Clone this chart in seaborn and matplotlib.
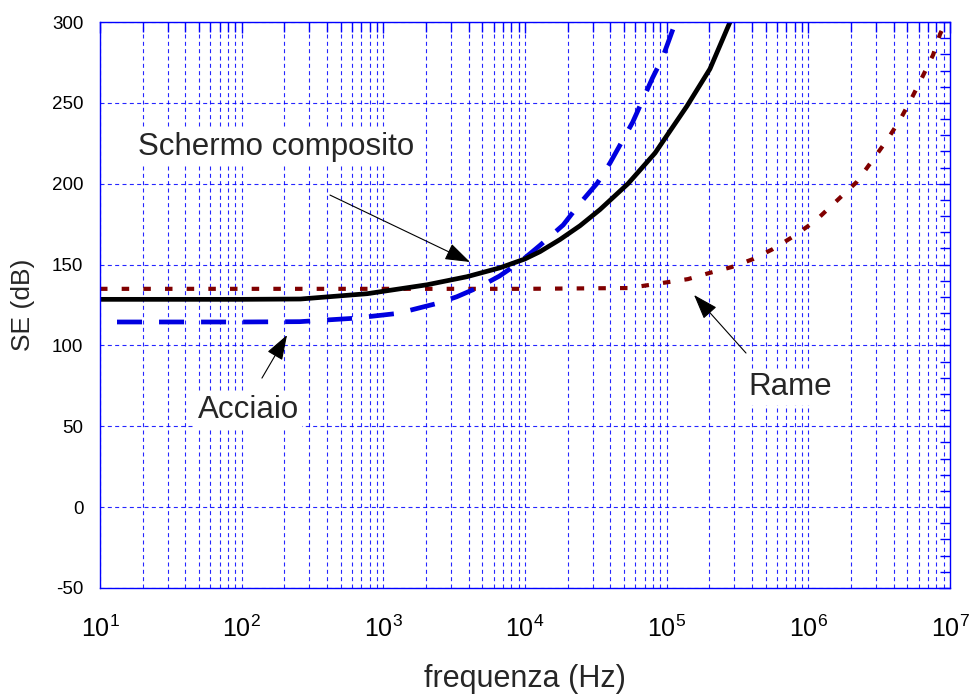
import numpy as np
import pandas as pd
import matplotlib
matplotlib.use("Agg")
import matplotlib.pyplot as plt
import seaborn as sns
from matplotlib.ticker import FixedLocator, LogLocator, NullFormatter, MultipleLocator

# ---- data ----
freq_composito = [10, 100, 260, 770, 2030, 3890, 6650, 10000, 12760, 17660, 24430,
                  33800, 53300, 82800, 139000, 202000, 280000]
se_composito = [128.5, 128.5, 128.7, 132.0, 137.5, 142.5, 148.0, 153.5, 158.0, 165.5,
                174.0, 184.0, 200.0, 219.0, 248.0, 271.0, 300.0]

freq_acciaio = [10, 100, 257, 620, 1260, 2400, 3300, 4800, 6600, 9100, 12800, 18600,
                24500, 32400, 39800, 49000, 57500, 67600, 79400, 93300, 105000, 115000]
se_acciaio = [114.5, 114.5, 114.7, 116.8, 119.8, 126.0, 130.1, 136.3, 142.9, 151.2,
              162.0, 174.5, 188.0, 200.4, 212.8, 227.0, 238.0, 251.7, 265.4, 277.7,
              290.0, 299.6]

freq_rame = [10, 10000, 53700, 74100, 141000, 200000, 288000, 407000, 562000, 794000,
             1120000, 1580000, 2190000, 2880000, 3630000, 4470000, 5370000, 6460000,
             7590000, 8510000, 9330000]
se_rame = [135.0, 135.0, 135.5, 137.3, 141.0, 144.8, 148.5, 153.4, 159.6, 167.7, 177.0,
           189.3, 201.0, 215.3, 227.6, 240.0, 253.0, 267.0, 279.6, 292.6, 300.0]

x_ticks = [1e1, 1e2, 1e3, 1e4, 1e5, 1e6, 1e7]
x_ticklabels = [r"$10^{1}$", r"$10^{2}$", r"$10^{3}$", r"$10^{4}$", r"$10^{5}$",
                r"$10^{6}$", r"$10^{7}$"]
y_ticks = [-50, 0, 50, 100, 150, 200, 250, 300]
y_ticklabels = ["-50", "0", "50", "100", "150", "200", "250", "300"]

label_composito = "Schermo composito"
label_acciaio = "Acciaio"
label_rame = "Rame"
xlabel = "frequenza (Hz)"
ylabel = "SE (dB)"

# ---- styling ----
sns.set_theme(style="white")
plt.rcParams["font.family"] = ["Liberation Sans", "DejaVu Sans"]
plt.rcParams["mathtext.fontset"] = "custom"
plt.rcParams["mathtext.rm"] = "Liberation Sans"
plt.rcParams["mathtext.it"] = "Liberation Sans:italic"
plt.rcParams["mathtext.bf"] = "Liberation Sans:bold"

fig = plt.figure(figsize=(9.7, 6.97), dpi=100)
ax = fig.add_axes([0.1031, 0.1564, 0.8763, 0.812])

blue = "#0000ff"
ax.set_xscale("log")
ax.set_xlim(10, 1e7)
ax.set_ylim(-50, 300)

# grid
ax.set_axisbelow(True)
ax.grid(True, which="both", axis="x", color=blue, lw=0.8, alpha=0.85,
        linestyle=(0, (3.6, 3.0)))
ax.grid(True, which="major", axis="y", color=blue, lw=0.8, alpha=0.85,
        linestyle=(0, (3.6, 3.0)))

df_c = pd.DataFrame({"f": freq_composito, "se": se_composito})
df_a = pd.DataFrame({"f": freq_acciaio, "se": se_acciaio})
df_r = pd.DataFrame({"f": freq_rame, "se": se_rame})

sns.lineplot(data=df_r, x="f", y="se", ax=ax, color="#800000", lw=3.0,
             linestyle=(0, (1.8, 3.4)), sort=False, estimator=None)
sns.lineplot(data=df_a, x="f", y="se", ax=ax, color="#0000e0", lw=3.4,
             linestyle=(5.3, (5.3, 3.6)), sort=False, estimator=None)
sns.lineplot(data=df_c, x="f", y="se", ax=ax, color="black", lw=3.4,
             sort=False, estimator=None)

# ticks
ax.xaxis.set_major_locator(FixedLocator(x_ticks))
ax.set_xticklabels(x_ticklabels)
ax.xaxis.set_minor_locator(LogLocator(base=10, subs=np.arange(2, 10), numticks=20))
ax.xaxis.set_minor_formatter(NullFormatter())
ax.set_yticks(y_ticks)
ax.set_yticklabels(y_ticklabels)
ax.yaxis.set_minor_locator(MultipleLocator(10))

ax.tick_params(axis="both", which="both", direction="in", top=True, right=True,
               color=blue, width=1.0, labelcolor="black")
ax.tick_params(axis="both", which="major", length=8)
ax.tick_params(axis="both", which="minor", length=7)
ax.tick_params(axis="x", which="major", labelsize=18, pad=20)
ax.tick_params(axis="y", which="major", labelsize=13.5, pad=12)

for s in ax.spines.values():
    s.set_color(blue)
    s.set_linewidth(1.0)

ax.set_xlabel(xlabel, fontsize=22, labelpad=16)
ax.set_ylabel(ylabel, fontsize=19, labelpad=12)

# annotations
box = dict(facecolor="white", edgecolor="none", pad=2)
ax.text(175, 222.7, label_composito, fontsize=22.5, ha="center", va="center", bbox=box)
ax.text(111, 60, label_acciaio, fontsize=22.5, ha="center", va="center", bbox=box)
ax.text(7.4e5, 74.3, label_rame, fontsize=22.5, ha="center", va="center", bbox=box)

arrow = dict(arrowstyle="-|>,head_length=1.3,head_width=0.45", lw=0.8,
             color="black", shrinkA=0, shrinkB=0)
ax.annotate("", xy=(4090, 151.6), xytext=(420, 193), arrowprops=arrow)
ax.annotate("", xy=(209, 106.4), xytext=(139, 79.8), arrowprops=arrow)
ax.annotate("", xy=(1.56e5, 131.2), xytext=(3.63e5, 95.3), arrowprops=arrow)

fig.savefig("out.png", dpi=100)
